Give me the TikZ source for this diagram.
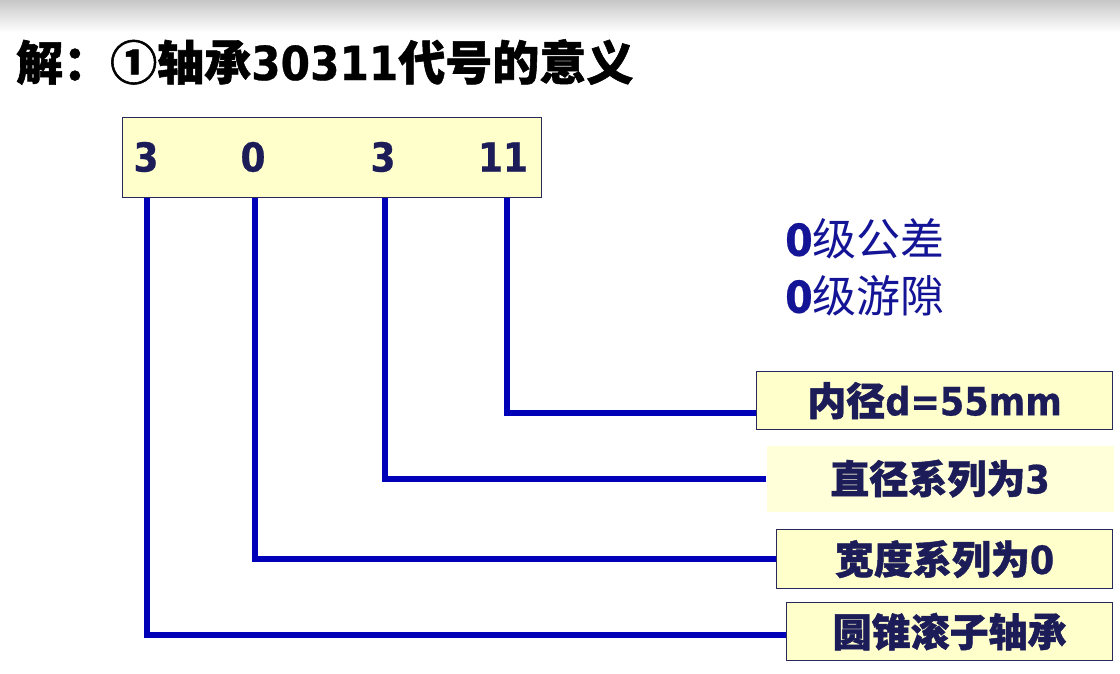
\documentclass[tikz,border=0pt]{standalone}
\usepackage{fontspec}
\setmainfont{Noto Sans CJK SC}[BoldFeatures={FakeBold=1.2}]
\newfontfamily\lat{DejaVu Sans}[FakeStretch=0.9,BoldFeatures={FakeBold=0.6}]
\usetikzlibrary{calc}
\definecolor{navytext}{RGB}{28,28,88}
\definecolor{linkblue}{RGB}{0,0,185}
\definecolor{tolblue}{RGB}{20,20,150}
\definecolor{boxfill}{RGB}{255,255,204}
\definecolor{boxfillb}{RGB}{255,255,218}
\definecolor{boxedge}{RGB}{40,40,90}
\begin{document}
\begin{tikzpicture}[x=1pt,y=-1pt,
  codebox/.style={draw=boxedge,line width=1.2pt,fill=boxfill,inner sep=0pt,anchor=north west},
  labelbox/.style={draw=boxedge,line width=1.2pt,fill=boxfill,inner sep=0pt,anchor=north west,
    text=navytext,font=\bfseries\fontsize{39}{41}\selectfont},
  digit/.style={text=navytext,font=\bfseries\lat\fontsize{40}{42}\selectfont,inner sep=0pt},
  tolnote/.style={anchor=west,inner sep=0pt,text=tolblue,font=\fontsize{44}{46}\selectfont},
  link/.style={draw=linkblue,line width=6pt}]
\useasboundingbox (0,0) rectangle (1120,674);
\fill[white] (0,0) rectangle (1120,674);
\shade[top color=black!22,bottom color=white] (0,0) rectangle (1120,32);
% title
\node[anchor=west,inner sep=0pt,font=\bfseries\fontsize{47}{51}\selectfont] (title) at (16,62)
  {解：①轴承{\lat 30311}代号的意义};
% code box
\node[codebox,minimum width=419pt,minimum height=80pt] (code) at (122,117) {};
\node[digit] (d1) at (146,157) {3};
\node[digit] (d2) at (253,157) {0};
\node[digit] (d3) at (383,157) {3};
\node[digit] (d4) at (503,157) {11};
% notes
\node[tolnote] (tol) at (785,239) {{\lat\bfseries 0}级公差};
\node[tolnote] (clr) at (785,296) {{\lat\bfseries 0}级游隙};
% label boxes
\node[labelbox,minimum width=356pt,minimum height=58pt] (lab1) at (756,371) {内径{\lat d=55mm}};
\node[labelbox,draw=none,fill=boxfillb,minimum width=347pt,minimum height=66pt] (lab2) at (766,445) {直径系列为{\lat 3}};
\node[labelbox,minimum width=336pt,minimum height=59pt] (lab3) at (776,529) {宽度系列为{\lat 0}};
\node[labelbox,minimum width=326pt,minimum height=58pt] (lab4) at (786,602) {圆锥滚子轴承};
% connectors
\draw[link] ([xshift=1pt]d1 |- code.south) |- ([yshift=-3pt]lab4.west);
\draw[link] ([xshift=2pt]d2 |- code.south) |- (lab3.west);
\draw[link] ([xshift=2pt]d3 |- code.south) |- (lab2.west);
\draw[link] ([xshift=4pt]d4 |- code.south) |- ([yshift=-12pt]lab1.west);
\end{tikzpicture}
\end{document}
